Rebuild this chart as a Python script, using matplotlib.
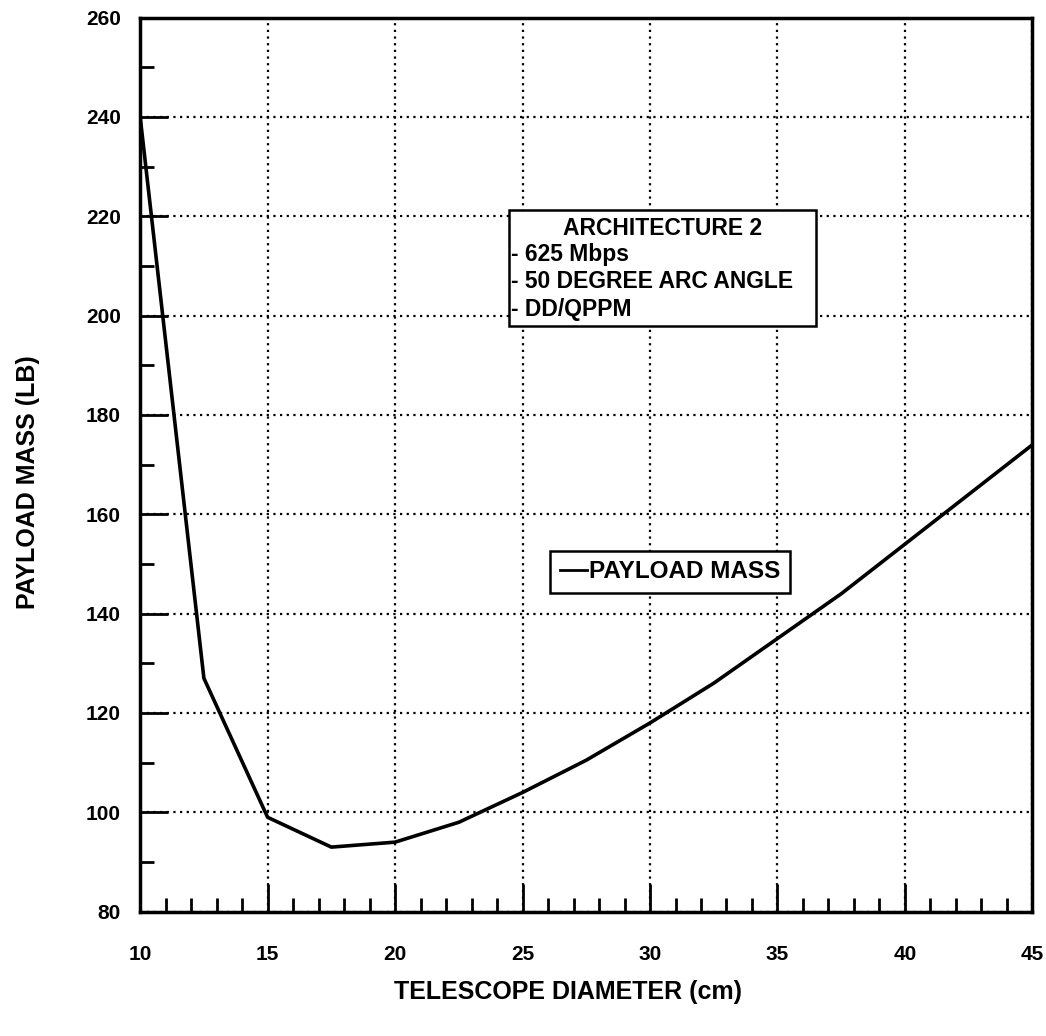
import matplotlib
matplotlib.use("Agg")
import matplotlib.pyplot as plt
from matplotlib.patches import Rectangle
from matplotlib.ticker import MultipleLocator

plt.rcParams['font.family'] = ['Liberation Sans', 'DejaVu Sans']
plt.rcParams['font.weight'] = 'bold'

# telescope diameter (cm) vs payload mass (lb)
diameter = [10, 12.5, 15, 17.5, 20, 22.5, 25, 27.5, 30, 32.5, 35, 37.5, 40, 42.5, 45]
mass = [240, 127, 99, 93, 94, 98, 104, 110.5, 118, 126, 135, 144, 154, 164, 174]

x_ticks = [10, 15, 20, 25, 30, 35, 40, 45]
y_ticks = [80, 100, 120, 140, 160, 180, 200, 220, 240, 260]
note_lines = ["- 625 Mbps", "- 50 DEGREE ARC ANGLE", "- DD/QPPM"]

fig = plt.figure(figsize=(10.46, 10.36), dpi=100)
ax = fig.add_axes([0.134, 0.120, 0.853, 0.863])

ax.plot(diameter, mass, color='black', lw=2.6, label='PAYLOAD MASS')

ax.set_xlim(10, 45)
ax.set_ylim(80, 260)
ax.set_xticks(x_ticks)
ax.set_yticks(y_ticks)
ax.xaxis.set_minor_locator(MultipleLocator(1))
ax.yaxis.set_minor_locator(MultipleLocator(10))
ax.tick_params(which='both', direction='in', top=False, right=False, width=2, labelsize=15)
ax.tick_params(which='major', length=20)
ax.tick_params(which='minor', length=10)
ax.tick_params(axis='x', pad=24)
ax.tick_params(axis='y', pad=14)
for lbl in ax.get_xticklabels() + ax.get_yticklabels():
    lbl.set_fontweight('bold')

ax.grid(True, which='major', color='black', lw=1.6, linestyle=(0, (1, 2)))
for s in ax.spines.values():
    s.set_linewidth(2.5)

ax.set_xlabel('TELESCOPE DIAMETER (cm)', fontsize=18, fontweight='bold')
ax.set_ylabel('PAYLOAD MASS (LB)', fontsize=18, fontweight='bold')
ax.xaxis.set_label_coords(0.48, -0.076)
ax.yaxis.set_label_coords(-0.112, 0.48)

# annotation box
ax.add_patch(Rectangle((0.413, 0.655), 0.344, 0.130, transform=ax.transAxes,
                       facecolor='white', edgecolor='black', lw=1.8, zorder=5))
ax.text(0.585, 0.764, 'ARCHITECTURE 2', transform=ax.transAxes, ha='center', va='center',
        fontsize=16.5, fontweight='bold', zorder=6)
for i, line in enumerate(note_lines):
    ax.text(0.416, 0.735 - i * 0.0305, line, transform=ax.transAxes, ha='left', va='center',
            fontsize=16.5, fontweight='bold', zorder=6)

leg = ax.legend(loc='center', bbox_to_anchor=(0.594, 0.380), frameon=True, fancybox=False,
                edgecolor='black', framealpha=1, handlelength=1.1, handletextpad=0.1,
                borderpad=0.4, borderaxespad=0, prop={'size': 17.5, 'weight': 'bold'})
leg.get_frame().set_linewidth(1.8)
for h in leg.legend_handles:
    h.set_linewidth(2)

fig.savefig('out.png', dpi=100)
